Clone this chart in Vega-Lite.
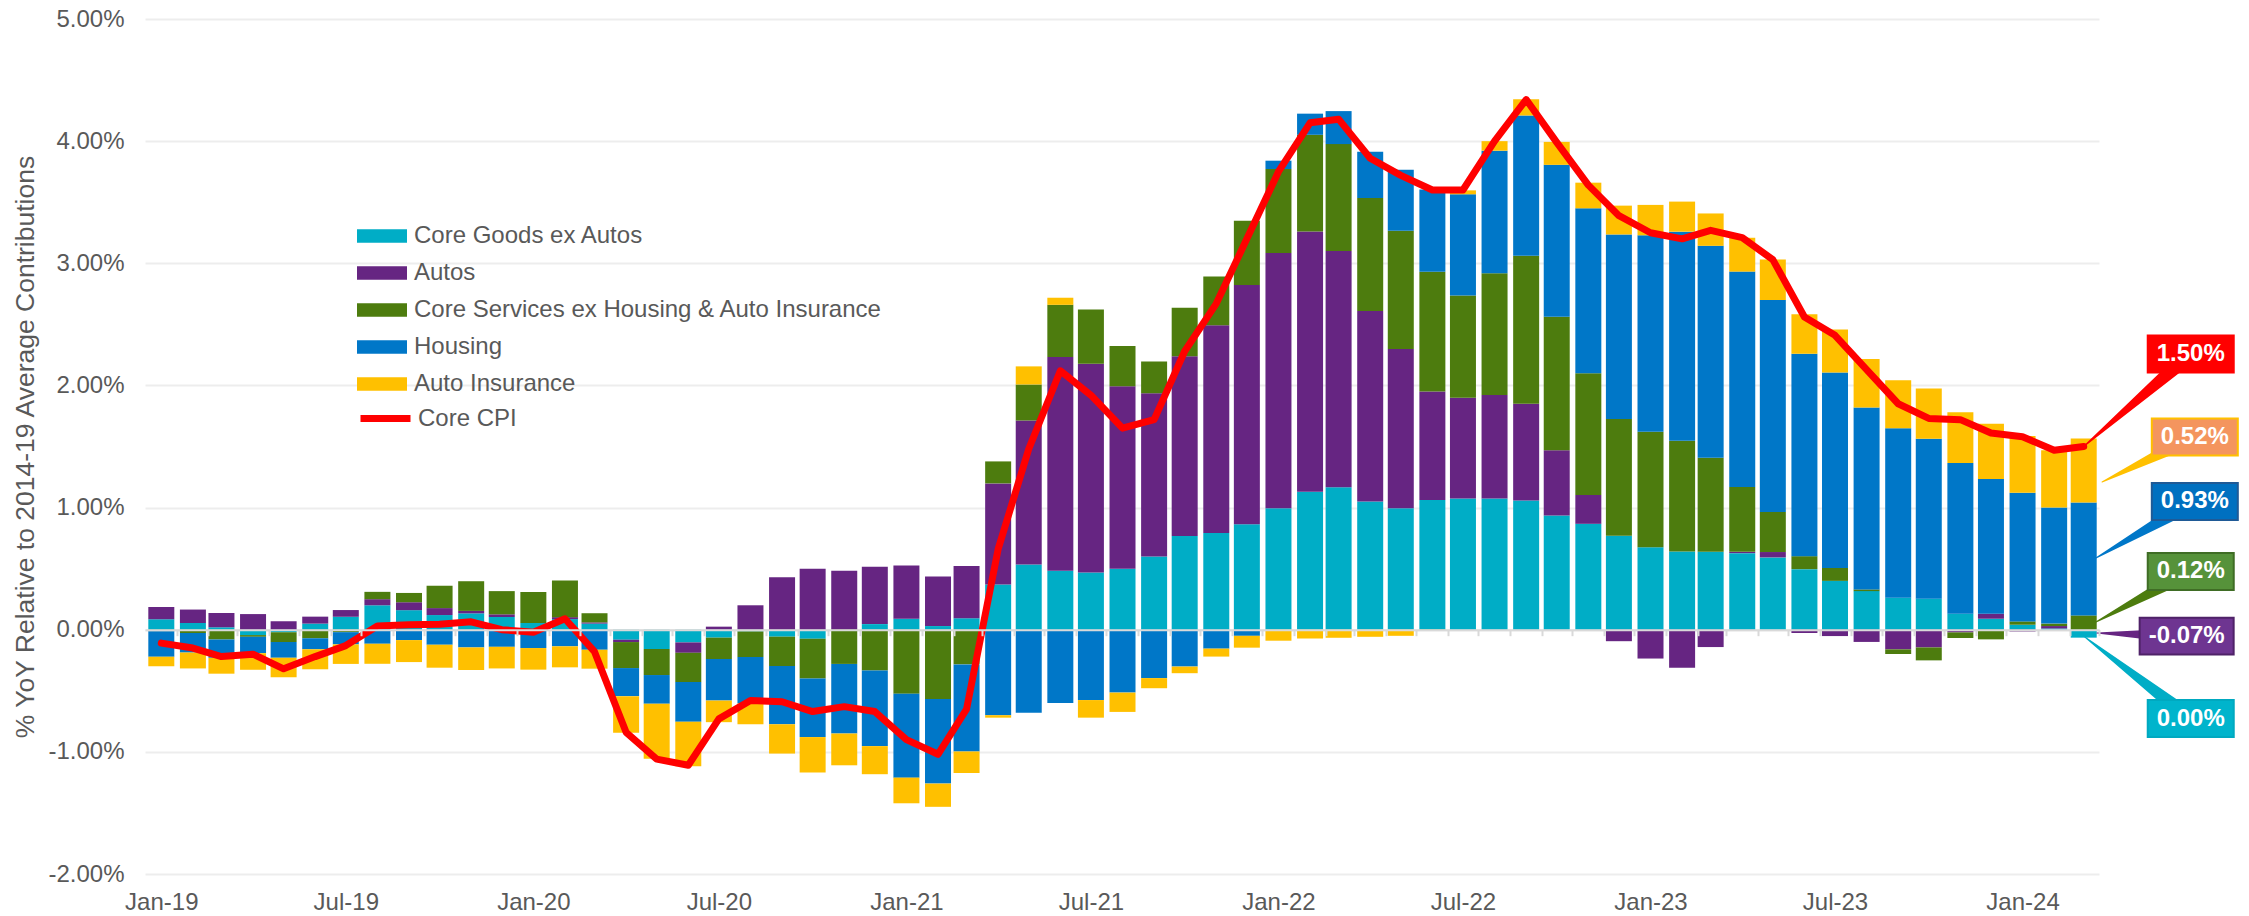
{
  "$schema": "https://vega.github.io/schema/vega-lite/v6.json",
  "width": 1954,
  "height": 855,
  "autosize": {"type": "none"},
  "padding": {"left": 145, "top": 19, "right": 150, "bottom": 42},
  "background": "white",
  "config": {
    "view": {"stroke": null},
    "font": "Liberation Sans"
  },
  "datasets": {
    "callouts": [
      {"series": "core", "label": "1.50%", "d": "2024-06-14", "v": 2.257},
      {"series": "insurance", "label": "0.52%", "d": "2024-06-18", "v": 1.578},
      {"series": "housing", "label": "0.93%", "d": "2024-06-18", "v": 1.05},
      {"series": "services", "label": "0.12%", "d": "2024-06-14", "v": 0.477},
      {"series": "autos", "label": "-0.07%", "d": "2024-06-10", "v": -0.052},
      {"series": "goods", "label": "0.00%", "d": "2024-06-14", "v": -0.727}
    ],
    "wedges": [
      {"series": "core", "d": "2024-03-01", "v": 1.5, "t": 0},
      {"series": "core", "d": "2024-06-14", "v": 2.257, "t": 1},
      {"series": "insurance", "d": "2024-03-19", "v": 1.209, "t": 0},
      {"series": "insurance", "d": "2024-06-18", "v": 1.578, "t": 1},
      {"series": "housing", "d": "2024-03-13", "v": 0.587, "t": 0},
      {"series": "housing", "d": "2024-06-18", "v": 1.05, "t": 1},
      {"series": "services", "d": "2024-03-13", "v": 0.063, "t": 0},
      {"series": "services", "d": "2024-06-14", "v": 0.477, "t": 1},
      {"series": "autos", "d": "2024-03-14", "v": -0.027, "t": 0},
      {"series": "autos", "d": "2024-06-10", "v": -0.052, "t": 1},
      {"series": "goods", "d": "2024-03-01", "v": -0.052, "t": 0},
      {"series": "goods", "d": "2024-06-14", "v": -0.727, "t": 1}
    ]
  },
  "data": {
    "values": [
      {"date": "2019-01-01", "goods": 0.085, "autos": 0.10, "services": -0.012, "housing": -0.21, "insurance": -0.077, "core": -0.11},
      {"date": "2019-02-01", "goods": 0.055, "autos": 0.11, "services": -0.027, "housing": -0.16, "insurance": -0.13, "core": -0.15},
      {"date": "2019-03-01", "goods": 0.02, "autos": 0.117, "services": -0.08, "housing": -0.15, "insurance": -0.13, "core": -0.22},
      {"date": "2019-04-01", "goods": -0.044, "autos": 0.128, "services": -0.014, "housing": -0.134, "insurance": -0.136, "core": -0.20},
      {"date": "2019-05-01", "goods": -0.02, "autos": 0.07, "services": -0.08, "housing": -0.13, "insurance": -0.16, "core": -0.32},
      {"date": "2019-06-01", "goods": 0.05, "autos": 0.057, "services": -0.07, "housing": -0.09, "insurance": -0.164, "core": -0.22},
      {"date": "2019-07-01", "goods": 0.106, "autos": 0.055, "services": -0.02, "housing": -0.10, "insurance": -0.16, "core": -0.13},
      {"date": "2019-08-01", "goods": 0.20, "autos": 0.05, "services": 0.06, "housing": -0.115, "insurance": -0.164, "core": 0.03},
      {"date": "2019-09-01", "goods": 0.16, "autos": 0.065, "services": 0.076, "housing": -0.085, "insurance": -0.18, "core": 0.04},
      {"date": "2019-10-01", "goods": 0.12, "autos": 0.057, "services": 0.183, "housing": -0.123, "insurance": -0.188, "core": 0.045},
      {"date": "2019-11-01", "goods": 0.134, "autos": 0.02, "services": 0.243, "housing": -0.145, "insurance": -0.185, "core": 0.065},
      {"date": "2019-12-01", "goods": 0.104, "autos": 0.022, "services": 0.19, "housing": -0.14, "insurance": -0.177, "core": 0.0},
      {"date": "2020-01-01", "goods": 0.055, "autos": 0.0, "services": 0.254, "housing": -0.15, "insurance": -0.177, "core": -0.02},
      {"date": "2020-02-01", "goods": 0.087, "autos": 0.016, "services": 0.30, "housing": -0.136, "insurance": -0.172, "core": 0.09},
      {"date": "2020-03-01", "goods": 0.05, "autos": 0.01, "services": 0.075, "housing": -0.164, "insurance": -0.155, "core": -0.18},
      {"date": "2020-04-01", "goods": -0.082, "autos": -0.019, "services": -0.213, "housing": -0.23, "insurance": -0.30, "core": -0.84},
      {"date": "2020-05-01", "goods": -0.158, "autos": 0.0, "services": -0.213, "housing": -0.235, "insurance": -0.45, "core": -1.06},
      {"date": "2020-06-01", "goods": -0.104, "autos": -0.085, "services": -0.24, "housing": -0.325, "insurance": -0.363, "core": -1.11},
      {"date": "2020-07-01", "goods": -0.065, "autos": 0.025, "services": -0.175, "housing": -0.34, "insurance": -0.177, "core": -0.73},
      {"date": "2020-08-01", "goods": -0.014, "autos": 0.20, "services": -0.21, "housing": -0.38, "insurance": -0.17, "core": -0.58},
      {"date": "2020-09-01", "goods": -0.057, "autos": 0.43, "services": -0.24, "housing": -0.477, "insurance": -0.24, "core": -0.59},
      {"date": "2020-10-01", "goods": -0.074, "autos": 0.50, "services": -0.325, "housing": -0.48, "insurance": -0.29, "core": -0.67},
      {"date": "2020-11-01", "goods": 0.0, "autos": 0.483, "services": -0.28, "housing": -0.57, "insurance": -0.26, "core": -0.63},
      {"date": "2020-12-01", "goods": 0.046, "autos": 0.47, "services": -0.333, "housing": -0.62, "insurance": -0.23, "core": -0.67},
      {"date": "2021-01-01", "goods": 0.09, "autos": 0.436, "services": -0.524, "housing": -0.687, "insurance": -0.21, "core": -0.90},
      {"date": "2021-02-01", "goods": 0.03, "autos": 0.406, "services": -0.567, "housing": -0.693, "insurance": -0.19, "core": -1.02},
      {"date": "2021-03-01", "goods": 0.094, "autos": 0.428, "services": -0.284, "housing": -0.713, "insurance": -0.176, "core": -0.65},
      {"date": "2021-04-01", "goods": 0.37, "autos": 0.828, "services": 0.18, "housing": -0.70, "insurance": -0.02, "core": 0.66},
      {"date": "2021-05-01", "goods": 0.533, "autos": 1.18, "services": 0.295, "housing": -0.68, "insurance": 0.148, "core": 1.48},
      {"date": "2021-06-01", "goods": 0.482, "autos": 1.75, "services": 0.428, "housing": -0.60, "insurance": 0.058, "core": 2.12},
      {"date": "2021-07-01", "goods": 0.468, "autos": 1.71, "services": 0.443, "housing": -0.576, "insurance": -0.144, "core": 1.92},
      {"date": "2021-08-01", "goods": 0.50, "autos": 1.494, "services": 0.328, "housing": -0.515, "insurance": -0.158, "core": 1.65},
      {"date": "2021-09-01", "goods": 0.60, "autos": 1.336, "services": 0.26, "housing": -0.396, "insurance": -0.083, "core": 1.72},
      {"date": "2021-10-01", "goods": 0.767, "autos": 1.472, "services": 0.396, "housing": -0.302, "insurance": -0.054, "core": 2.28},
      {"date": "2021-11-01", "goods": 0.792, "autos": 1.70, "services": 0.40, "housing": -0.155, "insurance": -0.065, "core": 2.67},
      {"date": "2021-12-01", "goods": 0.864, "autos": 1.958, "services": 0.526, "housing": -0.05, "insurance": -0.097, "core": 3.20},
      {"date": "2022-01-01", "goods": 0.994, "autos": 2.09, "services": 0.688, "housing": 0.068, "insurance": -0.09, "core": 3.75},
      {"date": "2022-02-01", "goods": 1.13, "autos": 2.13, "services": 0.792, "housing": 0.173, "insurance": -0.072, "core": 4.15},
      {"date": "2022-03-01", "goods": 1.167, "autos": 1.933, "services": 0.876, "housing": 0.27, "insurance": -0.066, "core": 4.18},
      {"date": "2022-04-01", "goods": 1.049, "autos": 1.56, "services": 0.926, "housing": 0.379, "insurance": -0.058, "core": 3.86},
      {"date": "2022-05-01", "goods": 0.994, "autos": 1.304, "services": 0.968, "housing": 0.50, "insurance": -0.05, "core": 3.72},
      {"date": "2022-06-01", "goods": 1.061, "autos": 0.89, "services": 0.98, "housing": 0.673, "insurance": -0.01, "core": 3.60},
      {"date": "2022-07-01", "goods": 1.074, "autos": 0.825, "services": 0.838, "housing": 0.828, "insurance": 0.032, "core": 3.60},
      {"date": "2022-08-01", "goods": 1.074, "autos": 0.848, "services": 0.997, "housing": 1.003, "insurance": 0.078, "core": 4.00},
      {"date": "2022-09-01", "goods": 1.058, "autos": 0.793, "services": 1.21, "housing": 1.149, "insurance": 0.133, "core": 4.34},
      {"date": "2022-10-01", "goods": 0.935, "autos": 0.534, "services": 1.094, "housing": 1.243, "insurance": 0.188, "core": 3.99},
      {"date": "2022-11-01", "goods": 0.867, "autos": 0.236, "services": 0.997, "housing": 1.35, "insurance": 0.21, "core": 3.64},
      {"date": "2022-12-01", "goods": 0.77, "autos": -0.094, "services": 0.955, "housing": 1.511, "insurance": 0.236, "core": 3.39},
      {"date": "2023-01-01", "goods": 0.676, "autos": -0.236, "services": 0.945, "housing": 1.608, "insurance": 0.249, "core": 3.25},
      {"date": "2023-02-01", "goods": 0.641, "autos": -0.311, "services": 0.906, "housing": 1.712, "insurance": 0.246, "core": 3.20},
      {"date": "2023-03-01", "goods": 0.638, "autos": -0.142, "services": 0.77, "housing": 1.735, "insurance": 0.265, "core": 3.27},
      {"date": "2023-04-01", "goods": 0.627, "autos": 0.011, "services": 0.53, "housing": 1.764, "insurance": 0.277, "core": 3.21},
      {"date": "2023-05-01", "goods": 0.592, "autos": 0.044, "services": 0.327, "housing": 1.737, "insurance": 0.33, "core": 3.03},
      {"date": "2023-06-01", "goods": 0.496, "autos": -0.027, "services": 0.106, "housing": 1.658, "insurance": 0.322, "core": 2.56},
      {"date": "2023-07-01", "goods": 0.40, "autos": -0.052, "services": 0.106, "housing": 1.60, "insurance": 0.352, "core": 2.41},
      {"date": "2023-08-01", "goods": 0.316, "autos": -0.10, "services": 0.014, "housing": 1.49, "insurance": 0.396, "core": 2.13},
      {"date": "2023-09-01", "goods": 0.262, "autos": -0.161, "services": -0.038, "housing": 1.388, "insurance": 0.393, "core": 1.85},
      {"date": "2023-10-01", "goods": 0.254, "autos": -0.145, "services": -0.106, "housing": 1.309, "insurance": 0.412, "core": 1.73},
      {"date": "2023-11-01", "goods": 0.131, "autos": -0.022, "services": -0.046, "housing": 1.233, "insurance": 0.417, "core": 1.72},
      {"date": "2023-12-01", "goods": 0.09, "autos": 0.041, "services": -0.079, "housing": 1.102, "insurance": 0.453, "core": 1.61},
      {"date": "2024-01-01", "goods": 0.041, "autos": -0.014, "services": 0.027, "housing": 1.053, "insurance": 0.464, "core": 1.58},
      {"date": "2024-02-01", "goods": 0.01, "autos": 0.02, "services": 0.02, "housing": 0.95, "insurance": 0.47, "core": 1.47},
      {"date": "2024-03-01", "goods": -0.065, "autos": 0.0, "services": 0.117, "housing": 0.925, "insurance": 0.524, "core": 1.50}
    ]
  },
  "layer": [
    {
      "transform": [
        {"fold": ["goods", "autos", "services", "housing", "insurance"], "as": ["series", "value"]},
        {"window": [{"op": "row_number", "as": "k"}], "groupby": ["date"]}
      ],
      "mark": {"type": "bar", "width": 26},
      "encoding": {
        "x": {
          "field": "date", "type": "temporal",
          "scale": {"type": "utc", "domain": [{"year": 2018, "month": 12, "date": 16, "utc": true}, {"year": 2024, "month": 3, "date": 16, "utc": true}], "padding": 0},
          "axis": {
            "orient": "bottom",
            "values": [
              {"year": 2019, "month": 1, "date": 1, "utc": true},
              {"year": 2019, "month": 7, "date": 1, "utc": true},
              {"year": 2020, "month": 1, "date": 1, "utc": true},
              {"year": 2020, "month": 7, "date": 1, "utc": true},
              {"year": 2021, "month": 1, "date": 1, "utc": true},
              {"year": 2021, "month": 7, "date": 1, "utc": true},
              {"year": 2022, "month": 1, "date": 1, "utc": true},
              {"year": 2022, "month": 7, "date": 1, "utc": true},
              {"year": 2023, "month": 1, "date": 1, "utc": true},
              {"year": 2023, "month": 7, "date": 1, "utc": true},
              {"year": 2024, "month": 1, "date": 1, "utc": true}
            ],
            "format": "%b-%y",
            "labelFontSize": 24,
            "labelColor": "#595959",
            "labelPadding": 16,
            "ticks": false,
            "domain": false,
            "grid": false,
            "title": null
          }
        },
        "y": {
          "field": "value", "type": "quantitative", "stack": "zero",
          "scale": {"domain": [-2, 5], "nice": false, "zero": false},
          "axis": {
            "orient": "left",
            "values": [-2, -1, 0, 1, 2, 3, 4, 5],
            "labelExpr": "(datum.value < 0 ? '-' : '') + format(abs(datum.value), '.2f') + '%'",
            "labelFontSize": 24,
            "labelColor": "#595959",
            "labelPadding": 21,
            "ticks": false,
            "tickSize": 0,
            "domain": false,
            "grid": true,
            "gridColor": "#EDEDED",
            "gridWidth": 2,
            "title": "% YoY Relative to 2014-19 Average Contributions",
            "titleFontSize": 26.5,
            "titleFontWeight": "normal",
            "titleColor": "#595959",
            "titlePadding": 8
          }
        },
        "color": {
          "field": "series", "type": "nominal",
          "scale": {
            "domain": ["goods", "autos", "services", "housing", "insurance", "core"],
            "range": ["#00ADC6", "#662582", "#4D7C0E", "#0077C8", "#FFC000", "#FF0000"]
          },
          "legend": {
            "orient": "none",
            "legendX": 212,
            "legendY": 192,
            "values": ["goods", "autos", "services", "housing", "insurance"],
            "title": null,
            "padding": 0,
            "labelFontSize": 24,
            "labelColor": "#595959",
            "labelLimit": 1000,
            "labelOffset": 7,
            "rowPadding": -0.6,
            "symbolSize": 2500,
            "symbolType": "M-1,-0.27H1V0.27H-1Z",
            "symbolStrokeWidth": 0,
            "symbolOpacity": 1,
            "labelExpr": "['Core Goods ex Autos','Autos','Core Services ex Housing & Auto Insurance','Housing','Auto Insurance','Core CPI'][indexof(['goods','autos','services','housing','insurance','core'], datum.value)]"
          }
        },
        "order": {"field": "k", "type": "quantitative"}
      }
    },
    {
      "mark": {"type": "line", "strokeWidth": 7, "strokeJoin": "round", "strokeCap": "round"},
      "encoding": {
        "x": {
          "field": "date", "type": "temporal",
          "scale": {"type": "utc", "domain": [{"year": 2018, "month": 12, "date": 16, "utc": true}, {"year": 2024, "month": 3, "date": 16, "utc": true}], "padding": 0},
          "axis": {
            "orient": "bottom",
            "offset": -244.3,
            "labels": false,
            "title": null,
            "grid": false,
            "domain": true,
            "domainColor": "#D9D9D9",
            "domainWidth": 2,
            "ticks": true,
            "tickColor": "#D9D9D9",
            "tickWidth": 2,
            "tickSize": 6,
            "tickCount": {"interval": "month", "step": 1},
            "tickOffset": 15.5,
            "zindex": 1
          }
        },
        "y": {"field": "core", "type": "quantitative", "scale": {"domain": [-2, 5], "nice": false, "zero": false}},
        "stroke": {
          "datum": "core", "type": "nominal",
          "scale": {"domain": ["core"], "range": ["#FF0000"]},
          "legend": {
            "orient": "none",
            "legendX": 212,
            "legendY": 371,
            "title": null,
            "padding": 0,
            "labelFontSize": 24,
            "labelColor": "#595959",
            "labelOffset": 4,
            "symbolSize": 2500,
            "symbolType": "stroke",
            "symbolStrokeWidth": 7,
            "labelExpr": "'Core CPI'"
          }
        }
      }
    },
    {
      "data": {"name": "wedges"},
      "mark": {"type": "trail"},
      "encoding": {
        "x": {"field": "d", "type": "temporal", "scale": {"type": "utc", "domain": [{"year": 2018, "month": 12, "date": 16, "utc": true}, {"year": 2024, "month": 3, "date": 16, "utc": true}], "padding": 0}, "axis": null},
        "y": {"field": "v", "type": "quantitative", "scale": {"domain": [-2, 5], "nice": false, "zero": false}},
        "size": {"field": "t", "type": "quantitative", "scale": {"domain": [0, 1], "range": [0, 16]}, "legend": null},
        "color": {"field": "series", "type": "nominal", "legend": null}
      }
    },
    {
      "data": {"name": "callouts"},
      "mark": {"type": "point", "filled": true, "opacity": 1, "strokeWidth": 2, "strokeOpacity": 1, "fillOpacity": 1},
      "encoding": {
        "x": {"field": "d", "type": "temporal", "scale": {"type": "utc", "domain": [{"year": 2018, "month": 12, "date": 16, "utc": true}, {"year": 2024, "month": 3, "date": 16, "utc": true}], "padding": 0}, "axis": null},
        "y": {"field": "v", "type": "quantitative", "scale": {"domain": [-2, 5], "nice": false, "zero": false}},
        "shape": {"condition": {"test": "datum.series === 'autos'", "value": "M-1,-0.39H1V0.39H-1Z"}, "value": "M-1,-0.43H1V0.43H-1Z"},
        "size": {"condition": {"test": "datum.series === 'autos'", "value": 8836}, "value": 7396},
        "fill": {
          "field": "series", "type": "nominal",
          "scale": {"domain": ["goods", "autos", "services", "housing", "insurance", "core"], "range": ["#00B4CC", "#6E3591", "#56923A", "#0070C0", "#F4955E", "#FF0000"]},
          "legend": null
        },
        "stroke": {
          "field": "series", "type": "nominal",
          "scale": {"domain": ["goods", "autos", "services", "housing", "insurance", "core"], "range": ["#00A9C0", "#4F2268", "#3F6D25", "#1F5A96", "#FFC000", "#FF0000"]},
          "legend": null
        }
      }
    },
    {
      "data": {"name": "callouts"},
      "mark": {"type": "text", "color": "#FFFFFF", "fontWeight": "bold", "fontSize": 24, "align": "center", "baseline": "middle"},
      "encoding": {
        "x": {"field": "d", "type": "temporal", "scale": {"type": "utc", "domain": [{"year": 2018, "month": 12, "date": 16, "utc": true}, {"year": 2024, "month": 3, "date": 16, "utc": true}], "padding": 0}, "axis": null},
        "y": {"field": "v", "type": "quantitative", "scale": {"domain": [-2, 5], "nice": false, "zero": false}},
        "text": {"field": "label"}
      }
    }
  ],
  "resolve": {"axis": {"x": "independent"}, "scale": {"stroke": "independent"}}
}
